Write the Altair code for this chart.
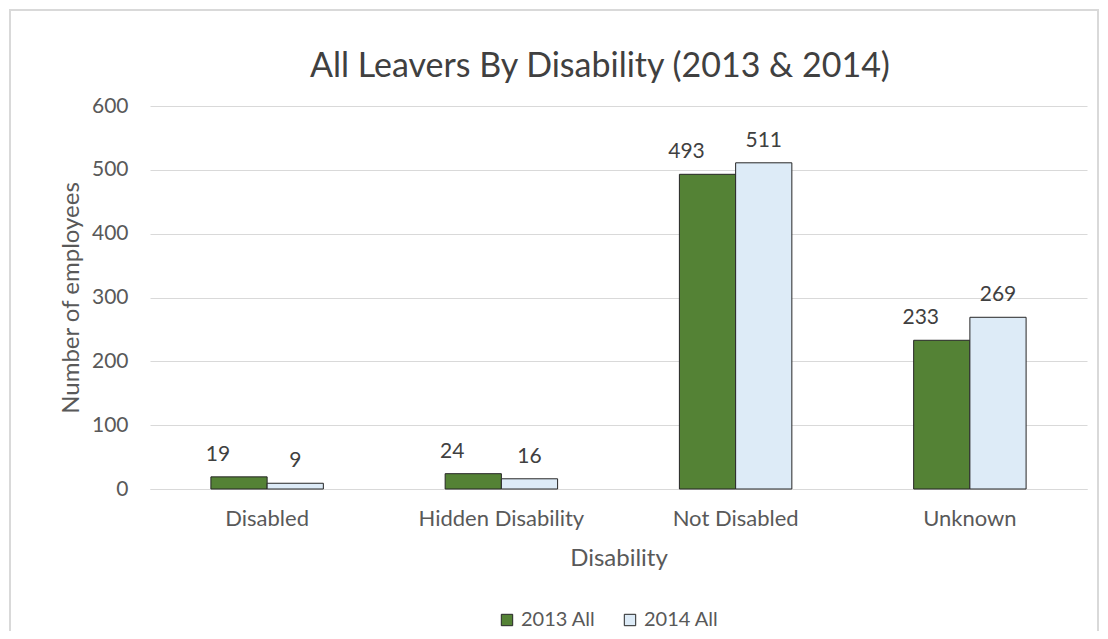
import altair as alt
import pandas as pd

categories = ["Disabled", "Hidden Disability", "Not Disabled", "Unknown"]
series = ["2013 All", "2014 All"]
values_2013 = [19, 24, 493, 233]
values_2014 = [9, 16, 511, 269]
colors = ["#548235", "#DDEBF7"]
title_text = "All Leavers By Disability (2013 & 2014)"

rows = []
for c, a, b in zip(categories, values_2013, values_2014):
    rows.append({"Disability": c, "Series": series[0], "Value": a})
    rows.append({"Disability": c, "Series": series[1], "Value": b})
df = pd.DataFrame(rows)

FONT = "Lato"
TXT = "#595959"

x_enc = alt.X("Disability:N", sort=categories,
              scale=alt.Scale(paddingInner=0.52, paddingOuter=0.26),
              axis=alt.Axis(title="Disability", labelAngle=0, labelFontSize=22,
                            labelColor=TXT, titleFontSize=24, titleColor=TXT,
                            titleFontWeight="normal", labelPadding=19, titlePadding=17,
                            ticks=False, domainColor="#d9d9d9", labelFont=FONT,
                            titleFont=FONT))
y_enc = alt.Y("Value:Q", scale=alt.Scale(domain=[0, 600]),
              axis=alt.Axis(title="Number of employees", values=[0, 100, 200, 300, 400, 500, 600],
                            labelFontSize=21, labelColor=TXT, titleFontSize=24,
                            titleColor=TXT, titleFontWeight="normal", ticks=False,
                            domain=False, gridColor="#d9d9d9", labelPadding=22,
                            titlePadding=8, labelFont=FONT, titleFont=FONT))
xoff = alt.XOffset("Series:N", sort=series, scale=alt.Scale(paddingInner=0, paddingOuter=0))

bars = alt.Chart(df).mark_bar(stroke="#262626", strokeWidth=1).encode(
    x=x_enc, y=y_enc, xOffset=xoff,
    color=alt.Color("Series:N", sort=series,
                    scale=alt.Scale(domain=series, range=colors),
                    legend=alt.Legend(title=None, orient="none", direction="horizontal",
                                      legendX=347, legendY=504, symbolType="square",
                                      symbolSize=130, symbolStrokeColor="#262626",
                                      symbolStrokeWidth=1, labelFontSize=20,
                                      labelColor=TXT, labelFont=FONT, columnPadding=24,
                                      symbolOpacity=1)),
)

lab13 = alt.Chart(df).transform_filter(alt.datum.Series == series[0]).mark_text(
    baseline="bottom", dy=-12, dx=-21, fontSize=21, color="#404040", font=FONT
).encode(x=alt.X("Disability:N", sort=categories), xOffset=xoff, y="Value:Q", text="Value:Q")

lab14 = alt.Chart(df).transform_filter(alt.datum.Series == series[1]).mark_text(
    baseline="bottom", dy=-12, fontSize=21, color="#404040", font=FONT
).encode(x=alt.X("Disability:N", sort=categories), xOffset=xoff, y="Value:Q", text="Value:Q")

border = alt.Chart(pd.DataFrame({"a": [0]})).mark_rect(
    fill=None, stroke="#d9d9d9", strokeWidth=2
).encode(x=alt.value(-140), x2=alt.value(948), y=alt.value(-96), y2=alt.value(560))

title = alt.Chart(pd.DataFrame({"t": [title_text]})).mark_text(
    fontSize=34, font=FONT, color="#404040", baseline="alphabetic", align="center"
).encode(x=alt.value(450), y=alt.value(-29), text="t:N")

chart = alt.layer(border, bars, lab13, lab14, title).properties(
    width=937, height=383,
    autosize=alt.AutoSizeParams(type="none"),
    padding={"left": 142, "top": 98, "right": 13, "bottom": 142},
).configure_view(stroke=None)

chart.save("out.html", embed_options={"renderer": "svg", "actions": False})
